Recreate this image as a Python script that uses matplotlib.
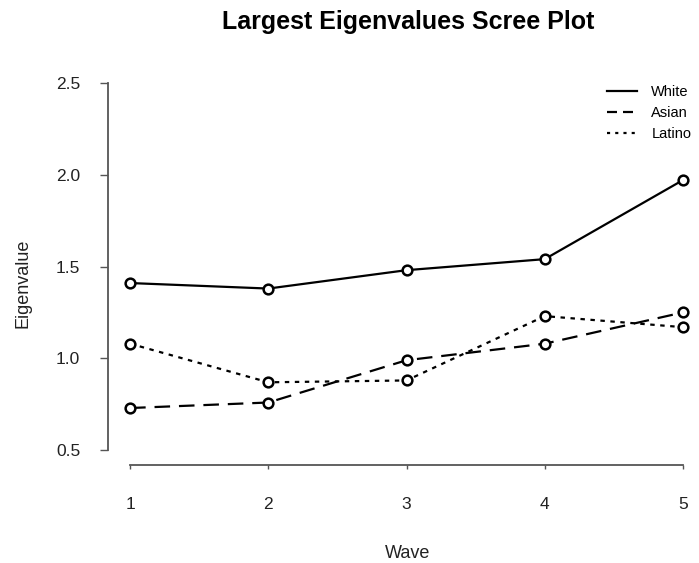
import numpy as np
import matplotlib
matplotlib.use("Agg")
import matplotlib.pyplot as plt

plt.rcParams['font.family'] = ['Liberation Sans', 'DejaVu Sans']

waves = [1, 2, 3, 4, 5]
white = [1.41, 1.38, 1.48, 1.54, 1.97]
asian = [0.73, 0.76, 0.99, 1.08, 1.25]
latino = [1.08, 0.87, 0.88, 1.23, 1.17]

W, H = 699, 563
fig = plt.figure(figsize=(W / 100, H / 100), dpi=100)
# plot region in pixels (R-style, 4% padding around data range)
x0, x1 = 108, 705
y0, y1 = 68, 465
ax = fig.add_axes([x0 / W, 1 - y1 / H, (x1 - x0) / W, (y1 - y0) / H])
ax.set_xlim(0.84, 5.16)
ax.set_ylim(0.42, 2.58)

mk = dict(marker='o', markersize=7, markerfacecolor='white',
          markeredgecolor='black', markeredgewidth=1.8, color='black', lw=1.6,
          clip_on=False)
ax.plot(waves, white, linestyle='-', label='White', **mk)
ax.plot(waves, asian, linestyle=(0, (7, 4)), label='Asian', **mk)
ax.plot(waves, latino, linestyle=(0, (2, 2.5)), label='Latino', **mk)

for s in ['top', 'right']:
    ax.spines[s].set_visible(False)
ax.spines['left'].set_bounds(0.5, 2.5)
ax.spines['bottom'].set_bounds(1, 5)
for s in ['left', 'bottom']:
    ax.spines[s].set_color('#555555')
    ax.spines[s].set_linewidth(1.3)
ax.set_yticks([0.5, 1.0, 1.5, 2.0, 2.5])
ax.set_yticklabels(['0.5', '1.0', '1.5', '2.0', '2.5'])
ax.set_xticks(waves)
ax.tick_params(axis='y', length=6, width=1, color='#555555', pad=14,
               labelsize=12.5, labelcolor='#222222')
ax.tick_params(axis='x', length=3, width=1, color='#555555', pad=20,
               labelsize=12.5, labelcolor='#222222')

ax.set_xlabel('Wave', fontsize=13, color='#222222', va='center')
ax.set_ylabel('Eigenvalue', fontsize=13, color='#222222', va='center')
ax.xaxis.set_label_coords((408 - x0) / (x1 - x0), -(553 - y1) / (y1 - y0))
ax.yaxis.set_label_coords((23 - x0) / (x1 - x0), (y1 - 283) / (y1 - y0))

fig.text(408 / W, 1 - 22 / H, 'Largest Eigenvalues Scree Plot',
         ha='center', va='center', fontsize=18, fontweight='bold')

leg_handles = [plt.Line2D([], [], color='black', lw=1.6, linestyle='-'),
               plt.Line2D([], [], color='black', lw=1.6, linestyle=(0, (4.5, 2.7))),
               plt.Line2D([], [], color='black', lw=1.6, linestyle=(0, (1.4, 2.3)))]
fig.legend(leg_handles, ['White', 'Asian', 'Latino'], loc='upper left',
           bbox_to_anchor=(601 / W, 1 - 79 / H), frameon=False, fontsize=10.5,
           handlelength=2.1, handletextpad=0.95, labelspacing=0.5,
           borderpad=0.4, borderaxespad=0)

fig.savefig('out.png', dpi=100, facecolor='white')
